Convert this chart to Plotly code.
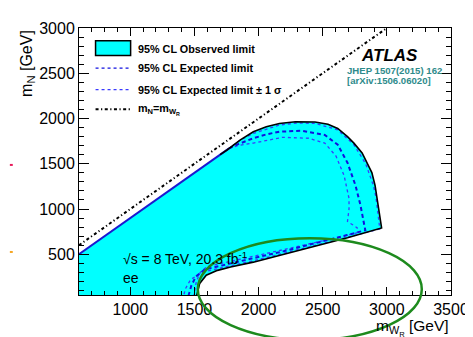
import plotly.graph_objects as go

# ---------------- data (GeV) ----------------
X_RANGE = [600, 3500]
Y_RANGE = [50, 3000]
X_TICKS = [1000, 1500, 2000, 2500, 3000, 3500]
Y_TICKS = [500, 1000, 1500, 2000, 2500, 3000]

# m_N = m_WR line
diag_x = [600, 3000]
diag_y = [600, 3000]

# kinematic edge of excluded region
edge_x = [600, 1770]
edge_y = [500, 1670]

# observed 95% CL limit contour
obs_x = [1700, 1754, 1858, 1959, 2060, 2162, 2287, 2440, 2541, 2617, 2693, 2743, 2807, 2844, 2883,
         2908, 2921, 2959, 2693, 2450, 2187, 1959, 1782, 1680, 1592, 1541, 1510]
obs_y = [1600, 1652, 1764, 1854, 1910, 1944, 1964, 1962, 1937, 1890, 1800, 1728, 1620, 1511, 1403,
         1260, 1133, 791, 683, 595, 503, 413, 359, 322, 268, 178, 0]

# expected 95% CL limit contour
exp_x = [1770, 1832, 1959, 2060, 2162, 2339, 2516, 2617, 2693, 2756, 2794, 2832,
         2690, 2450, 2190, 1960, 1700, 1580, 1510, 1475, 1445]
exp_y = [1670, 1712, 1782, 1825, 1854, 1865, 1818, 1710, 1511, 1259, 1043, 765,
         712, 622, 532, 457, 377, 332, 252, 150, 0]

# expected +/- 1 sigma contours
up_x = [1760, 1850, 1959, 2162, 2300, 2440, 2617, 2743, 2835, 2895, 2915, 2945,
        2700, 2450, 2190, 1960, 1700, 1560, 1470, 1430, 1408]
up_y = [1660, 1755, 1835, 1928, 1950, 1946, 1875, 1710, 1500, 1260, 1130, 780,
        690, 600, 510, 428, 348, 300, 220, 120, 0]

dn_x = [1770, 1850, 1959, 2187, 2389, 2516, 2604, 2667, 2705, 2705, 2693, 2769, 2766,
        2600, 2190, 1960, 1700, 1600, 1545, 1515, 1490]
dn_y = [1670, 1705, 1728, 1792, 1782, 1728, 1584, 1368, 1116, 1000, 863, 792, 737,
        680, 550, 480, 400, 365, 300, 200, 0]

# ---------------- layout helpers ----------------
W, H = 473, 337
L, R, T, B = 71, 20, 14, 50
PW, PH = W - L - R, H - T - B
FONT = "Liberation Sans, Arial, sans-serif"


def px(xp):
    return (xp - L) / PW


def py(yp):
    return (H - B - yp) / PH


CYAN = "#00FFFF"
BLUE = "#1010E0"
DOTBLUE = "#3a3aff"
TEAL = "#2E8B8B"
DASHDOT = "3px,2.5px,1.2px,2.5px"

fig = go.Figure()

# filled observed exclusion
fill_x = [edge_x[0], edge_x[0]] + obs_x
fill_y = [0, edge_y[0]] + obs_y
fig.add_trace(go.Scatter(x=fill_x, y=fill_y, mode="lines", fill="toself",
                         fillcolor=CYAN, line=dict(width=0), hoverinfo="skip"))
fig.add_trace(go.Scatter(x=edge_x, y=edge_y, mode="lines",
                         line=dict(color="#1a1ad0", width=2)))
fig.add_trace(go.Scatter(x=up_x, y=up_y, mode="lines",
                         line=dict(color=DOTBLUE, width=1.3, dash="dot")))
fig.add_trace(go.Scatter(x=dn_x, y=dn_y, mode="lines",
                         line=dict(color=DOTBLUE, width=1.3, dash="dot")))
fig.add_trace(go.Scatter(x=exp_x, y=exp_y, mode="lines",
                         line=dict(color=BLUE, width=2, dash="4px,3px")))
fig.add_trace(go.Scatter(x=obs_x, y=obs_y, mode="lines",
                         line=dict(color="black", width=1.6)))
fig.add_trace(go.Scatter(x=diag_x, y=diag_y, mode="lines",
                         line=dict(color="black", width=2, dash=DASHDOT)))

shapes = []
annotations = []

# legend
lx0, lx1 = px(88), px(124)
shapes.append(dict(type="rect", xref="paper", yref="paper", x0=lx0, x1=lx1,
                   y0=py(42), y1=py(27), fillcolor=CYAN, line=dict(color="black", width=1.5)))
shapes.append(dict(type="line", xref="paper", yref="paper", x0=lx0, x1=lx1,
                   y0=py(55), y1=py(55), line=dict(color=BLUE, width=1.2, dash="3px,3px")))
shapes.append(dict(type="line", xref="paper", yref="paper", x0=lx0, x1=lx1,
                   y0=py(77), y1=py(77), line=dict(color=DOTBLUE, width=1.3, dash="dot")))
shapes.append(dict(type="line", xref="paper", yref="paper", x0=lx0, x1=lx1,
                   y0=py(97), y1=py(97), line=dict(color="black", width=2, dash=DASHDOT)))
leg_texts = [("95% CL Observed limit", 35), ("95% CL Expected limit", 55),
             ("95% CL Expected limit ± 1 σ", 77), ("m<sub>N</sub>=m<sub>W<sub>R</sub></sub>", 97)]
for txt, yy in leg_texts:
    annotations.append(dict(text="<b>" + txt + "</b>", xref="paper", yref="paper",
                            x=px(130), y=py(yy), xanchor="left", yanchor="middle",
                            showarrow=False, font=dict(family=FONT, size=10.8, color="black")))

# ATLAS label
annotations.append(dict(text="<b><i>ATLAS</i></b>", xref="paper", yref="paper", x=px(390), y=py(42),
                        xanchor="center", yanchor="middle", showarrow=False,
                        font=dict(family=FONT, size=17, color="black")))
annotations.append(dict(text="<b>JHEP 1507(2015) 162</b>", xref="paper", yref="paper", x=px(344), y=py(57),
                        xanchor="left", yanchor="middle", showarrow=False,
                        font=dict(family=FONT, size=9.6, color=TEAL)))
annotations.append(dict(text="<b>[arXiv:1506.06020]</b>", xref="paper", yref="paper", x=px(344), y=py(68),
                        xanchor="left", yanchor="middle", showarrow=False,
                        font=dict(family=FONT, size=9.6, color=TEAL)))

# energy / lumi
annotations.append(dict(text="√s = 8 TeV, 20.3 fb<sup>-1</sup>", xref="paper", yref="paper",
                        x=px(114), y=py(249), xanchor="left", yanchor="middle", showarrow=False,
                        font=dict(family=FONT, size=14, color="black")))
annotations.append(dict(text="ee", xref="paper", yref="paper", x=px(114), y=py(270),
                        xanchor="left", yanchor="middle", showarrow=False,
                        font=dict(family=FONT, size=14, color="black")))

# axis titles
annotations.append(dict(text="m<sub>W<sub>R</sub></sub> [GeV]", xref="paper", yref="paper",
                        x=1.0, y=py(320.5), xanchor="right", yanchor="middle", showarrow=False,
                        font=dict(family=FONT, size=15.5, color="black")))
annotations.append(dict(text="m<sub>N</sub> [GeV]", xref="paper", yref="paper",
                        x=px(18), y=1.0, xanchor="center", yanchor="top", textangle=-90,
                        showarrow=False, font=dict(family=FONT, size=16, color="black")))

# green highlight ellipse
shapes.append(dict(type="circle", xref="paper", yref="paper", x0=px(193), x1=px(423),
                   y0=py(333), y1=py(229), line=dict(color="#1d8a1d", width=2.5), layer="above"))

# small marks at left edge
shapes.append(dict(type="line", xref="paper", yref="paper", x0=px(0), x1=px(3),
                   y0=py(154), y1=py(154), line=dict(color="#e8195a", width=2)))
shapes.append(dict(type="line", xref="paper", yref="paper", x0=px(0), x1=px(3),
                   y0=py(243), y1=py(243), line=dict(color="#f5a623", width=2)))

axis_common = dict(showline=True, linecolor="black", linewidth=1, mirror="allticks",
                   ticks="inside", showgrid=False, zeroline=False,
                   tickfont=dict(family=FONT, size=16, color="black"), tickcolor="black")

fig.update_layout(
    width=W, height=H,
    margin=dict(l=L, r=R, t=T, b=B, pad=0),
    paper_bgcolor="white", plot_bgcolor="white",
    showlegend=False,
    shapes=shapes, annotations=annotations,
    xaxis=dict(range=X_RANGE, tickvals=X_TICKS, ticklen=8,
               minor=dict(dtick=100, tick0=0, ticklen=4, ticks="inside", tickcolor="black"),
               **axis_common),
    yaxis=dict(range=Y_RANGE, tickvals=Y_TICKS, ticklen=10,
               minor=dict(dtick=100, tick0=0, ticklen=5, ticks="inside", tickcolor="black"),
               **axis_common),
)

fig.write_html("out.html")
